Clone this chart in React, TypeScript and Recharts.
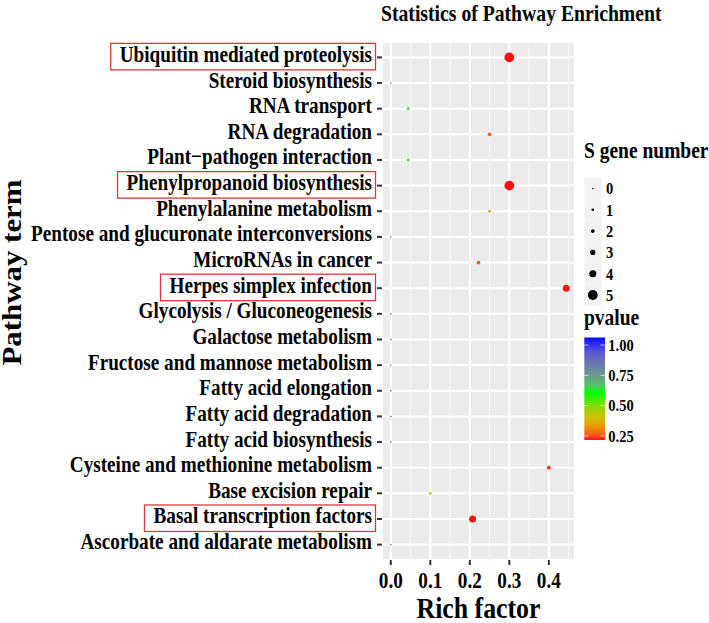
import React from 'react';
import {
    ScatterChart, Scatter, XAxis, YAxis, CartesianGrid, ReferenceLine
} from 'recharts';

// pathway terms, top to bottom
const categories = [
    'Ubiquitin mediated proteolysis',
    'Steroid biosynthesis',
    'RNA transport',
    'RNA degradation',
    'Plant\u2212pathogen interaction',
    'Phenylpropanoid biosynthesis',
    'Phenylalanine metabolism',
    'Pentose and glucuronate interconversions',
    'MicroRNAs in cancer',
    'Herpes simplex infection',
    'Glycolysis / Gluconeogenesis',
    'Galactose metabolism',
    'Fructose and mannose metabolism',
    'Fatty acid elongation',
    'Fatty acid degradation',
    'Fatty acid biosynthesis',
    'Cysteine and methionine metabolism',
    'Base excision repair',
    'Basal transcription factors',
    'Ascorbate and aldarate metabolism',
];

const richFactor = [0.3, 0, 0.044, 0.25, 0.044, 0.3, 0.25, 0, 0.222, 0.444, 0, 0, 0, 0, 0, 0, 0.4, 0.1, 0.207, 0];
const geneNumber = [5, 0, 1, 2, 1, 5, 1, 0, 2, 4, 0, 0, 0, 0, 0, 0, 2, 1, 4, 0];
const pvalue = [0.217, 1, 0.63, 0.26, 0.63, 0.217, 0.32, 1, 0.26, 0.22, 1, 1, 1, 1, 1, 1, 0.235, 0.45, 0.217, 1];

const highlighted = [
    'Ubiquitin mediated proteolysis',
    'Phenylpropanoid biosynthesis',
    'Herpes simplex infection',
    'Basal transcription factors',
];

const xTicks = [0, 0.1, 0.2, 0.3, 0.4];
const xMinor = [0.05, 0.15, 0.25, 0.35, 0.45];
const sizeLevels = [0, 1, 2, 3, 4, 5];
const pvalueTicks = [1.0, 0.75, 0.5, 0.25];

// styles
const FONT = "'Liberation Serif', 'Times New Roman', serif";
const SY = 1.18;
const RADIUS = [0.7, 1.3, 1.9, 2.6, 3.5, 4.9];
const COLOR_STOPS: [number, string][] = [
    [0.217, '#ff1010'],
    [0.26, '#f85a20'],
    [0.32, '#f09000'],
    [0.4, '#d4c000'],
    [0.5, '#80dc00'],
    [0.61, '#00ff00'],
    [0.66, '#50c860'],
    [0.75, '#6a9a90'],
    [0.85, '#6a78b0'],
    [0.95, '#5555d8'],
    [1.06, '#0a0aff'],
];

const hex = (c: string) => [1, 3, 5].map(i => parseInt(c.slice(i, i + 2), 16));

function pColor(p: number) {
    const s = COLOR_STOPS;
    if (p <= s[0][0]) return s[0][1];
    for (let i = 1; i < s.length; i++) {
        if (p <= s[i][0]) {
            const t = (p - s[i - 1][0]) / (s[i][0] - s[i - 1][0]);
            const a = hex(s[i - 1][1]);
            const b = hex(s[i][1]);
            const m = a.map((v, k) => Math.round(v + (b[k] - v) * t));
            return `rgb(${m[0]},${m[1]},${m[2]})`;
        }
    }
    return s[s.length - 1][1];
}

const data = categories.map((name, i) => ({
    name,
    y: i,
    x: richFactor[i],
    n: geneNumber[i],
    p: pvalue[i],
}));

let measureCtx: CanvasRenderingContext2D | null = null;
function textWidth(s: string, size: number) {
    if (!measureCtx) measureCtx = document.createElement('canvas').getContext('2d');
    if (!measureCtx) return s.length * size * 0.5;
    measureCtx.font = `bold ${size}px ${FONT}`;
    return measureCtx.measureText(s).width;
}

function SText({ x, y, size, anchor = 'start', children }: any) {
    return (
        <text
            transform={`translate(${x},${y}) scale(1,${SY})`}
            textAnchor={anchor}
            fontFamily={FONT}
            fontWeight="bold"
            fontSize={size}
            fill="#000"
        >
            {children}
        </text>
    );
}

function YTick(props: any) {
    const { x, y, payload } = props;
    const label = categories[payload.value];
    const endX = x - 3;
    const boxed = highlighted.includes(label);
    const w = boxed ? textWidth(label, 19.2) : 0;
    return (
        <g>
            {boxed && (
                <rect
                    x={endX - w - 9}
                    y={y - 14}
                    width={w + 12.5}
                    height={26.5}
                    fill="none"
                    stroke="#d83a3a"
                    strokeWidth={1.3}
                />
            )}
            <SText x={endX} y={y + 4.5} size={19.2} anchor="end">{label}</SText>
        </g>
    );
}

function XTick(props: any) {
    const { x, y, payload } = props;
    return <SText x={x} y={y + 21} size={19.2} anchor="middle">{payload.value.toFixed(1)}</SText>;
}

function Dot(props: any) {
    const { cx, cy, payload } = props;
    return <circle cx={cx} cy={cy} r={RADIUS[payload.n]} fill={pColor(payload.p)} />;
}

function Legends() {
    const barTop = 337.5;
    const barBottom = 440;
    const labelY = (p: number) => 436 - (p - 0.25) / 0.75 * 91;
    const pAt = (yy: number) => 0.25 + (436 - yy) / 91 * 0.75;
    const pTop = pAt(barTop);
    const pBottom = pAt(barBottom);
    return (
        <svg width={709} height={623} style={{ position: 'absolute', left: 0, top: 0, pointerEvents: 'none' }}>
            <defs>
                <linearGradient id="pbar" x1="0" y1="1" x2="0" y2="0">
                    {COLOR_STOPS.map(([p, c], i) => (
                        <stop key={i} offset={`${Math.max(0, Math.min(1, (p - pBottom) / (pTop - pBottom))) * 100}%`} stopColor={c} />
                    ))}
                </linearGradient>
            </defs>

            <SText x={381} y={21} size={19.7}>Statistics of Pathway Enrichment</SText>
            <SText x={478.5} y={618} size={25.8} anchor="middle">Rich factor</SText>
            <text
                transform="translate(21,272.5) rotate(-90)"
                textAnchor="middle"
                textLength={186}
                lengthAdjust="spacingAndGlyphs"
                fontFamily={FONT}
                fontWeight="bold"
                fontSize={26.4}
                fill="#000"
            >
                Pathway term
            </text>

            {/* size legend */}
            <SText x={584} y={158} size={19.5}>S gene number</SText>
            {sizeLevels.map((n, i) => {
                const cy = 188.5 + i * 21.3;
                return (
                    <g key={n}>
                        <rect x={584.3} y={cy - 10.65} width={17.4} height={21.3} fill="#f2f2f2" />
                        <circle cx={592.8} cy={cy} r={RADIUS[n]} fill="#000" />
                        <SText x={606} y={cy + 5.8} size={14.5}>{n}</SText>
                    </g>
                );
            })}

            {/* pvalue colourbar */}
            <SText x={584} y={325} size={19.5}>pvalue</SText>
            <rect x={584.3} y={barTop} width={20.7} height={barBottom - barTop} fill="url(#pbar)" />
            {pvalueTicks.map(p => (
                <g key={p}>
                    <line x1={584.3} x2={588.5} y1={labelY(p)} y2={labelY(p)} stroke="#fff" strokeOpacity={0.6} />
                    <line x1={600.5} x2={605} y1={labelY(p)} y2={labelY(p)} stroke="#fff" strokeOpacity={0.6} />
                    <SText x={608.3} y={labelY(p) + 5.8} size={14.5}>{p.toFixed(2)}</SText>
                </g>
            ))}
        </svg>
    );
}

export default function App() {
    return (
        <div style={{ position: 'absolute', left: 0, top: 0, width: 709, height: 623, background: '#fff' }}>
            <ScatterChart
                width={709}
                height={623}
                margin={{ top: 42, right: 134, bottom: 0, left: 0 }}
            >
                <CartesianGrid stroke="#fff" strokeWidth={2} fill="#ebebeb" fillOpacity={1} />
                {xMinor.map(v => (
                    <ReferenceLine key={v} x={v} stroke="#f6f6f6" strokeWidth={1.1} />
                ))}
                <XAxis
                    type="number"
                    dataKey="x"
                    domain={[-0.0222, 0.4662]}
                    ticks={xTicks}
                    allowDataOverflow
                    axisLine={false}
                    tickLine={{ stroke: '#333', strokeWidth: 2 }}
                    tickSize={5}
                    height={63}
                    tick={<XTick />}
                    interval={0}
                />
                <YAxis
                    type="number"
                    dataKey="y"
                    domain={[-0.6, categories.length - 0.4]}
                    ticks={categories.map((_, i) => i)}
                    reversed
                    allowDataOverflow
                    axisLine={false}
                    tickLine={{ stroke: '#333', strokeWidth: 2 }}
                    tickSize={5}
                    width={382}
                    tick={<YTick />}
                    interval={0}
                />
                <Scatter data={data} shape={<Dot />} isAnimationActive={false} />
            </ScatterChart>
            <Legends />
        </div>
    );
}
